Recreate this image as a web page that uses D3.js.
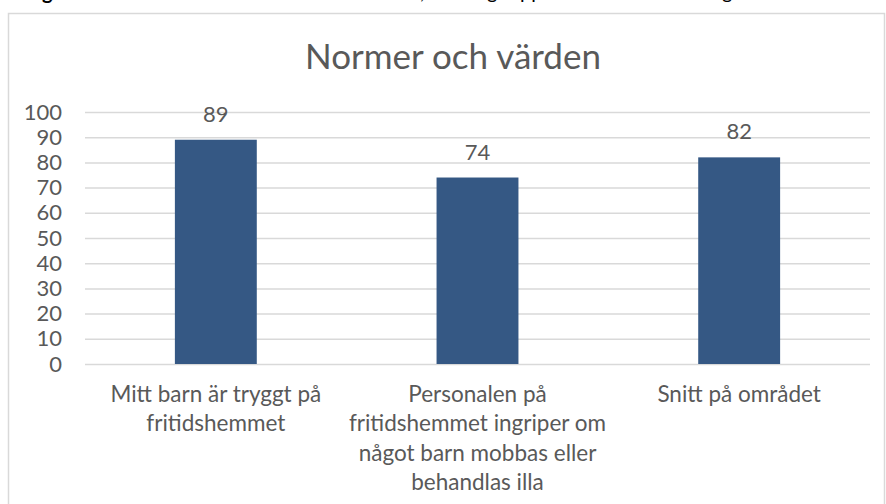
<!doctype html>
<html lang=sv>
<head>
<meta charset=utf-8>
<title>Normer och värden</title>
<script src="https://d3js.org/d3.v7.min.js"></script>
<style>
  body { margin: 0; background: #fff; }
  svg { display: block; }
  text { font-family: Lato, "Open Sans", sans-serif; fill: #595959; }
</style>
</head>
<body>
<div id="container"></div>
<script>
    // data
    var title = "Normer och värden";
    var categories = [
        "Mitt barn är tryggt på fritidshemmet",
        "Personalen på fritidshemmet ingriper om något barn mobbas eller behandlas illa",
        "Snitt på området"
    ];
    // the way the labels wrap in the picture
    var categoryLines = [
        ["Mitt barn är tryggt på", "fritidshemmet"],
        ["Personalen på", "fritidshemmet ingriper om", "något barn mobbas eller", "behandlas illa"],
        ["Snitt på området"]
    ];
    var values = [89, 74, 82];
    var yTicks = [0, 10, 20, 30, 40, 50, 60, 70, 80, 90, 100];

    var w = 886;
    var h = 504;
    var plotLeft = 85, plotRight = 870, plotTop = 112, plotBottom = 364;

    var svg = d3.select("div#container").append("svg")
        .attr("width", w).attr("height", h)
        .attr("viewBox", "0 0 " + w + " " + h);

    // bits of the document caption cut off above the chart
    var cap = svg.append("g").style("font-family", "'Liberation Serif', serif").style("font-size", "20px");
    cap.append("text").attr("x", 42).attr("y", -1).style("font-weight", "bold").style("fill", "#000").text("g");
    cap.append("text").attr("x", 420).attr("y", -1).style("fill", "#000").text(",");
    cap.append("text").attr("x", 487).attr("y", -1).style("fill", "#000").text("g");
    cap.append("text").attr("x", 520).attr("y", -1).style("fill", "#000").text("pp");
    cap.append("text").attr("x", 722).attr("y", -1).style("fill", "#000").text("g");

    // chart frame
    svg.append("rect")
        .attr("x", 8.5).attr("y", 13.5)
        .attr("width", 876).attr("height", 520)
        .attr("fill", "#fff").attr("stroke", "#d9d9d9").attr("stroke-width", 1.5);

    svg.append("text")
        .attr("x", 453).attr("y", 69)
        .attr("text-anchor", "middle")
        .style("font-size", "35px")
        .text(title);

    var x = d3.scaleBand().domain(categories).range([plotLeft, plotRight])
        .paddingInner(0.687).paddingOuter(0.3435);
    var y = d3.scaleLinear().domain([0, 100]).range([plotBottom, plotTop]);

    // gridlines
    svg.append("g")
        .attr("transform", "translate(" + plotLeft + ",0)")
        .call(d3.axisLeft(y).tickValues(yTicks).tickSize(-(plotRight - plotLeft)).tickFormat(""))
        .call(function(g) { g.select(".domain").remove(); })
        .selectAll("line").attr("stroke", "#d9d9d9").attr("stroke-width", 1.5);

    // y labels
    svg.append("g")
        .attr("transform", "translate(" + plotLeft + ",0)")
        .call(d3.axisLeft(y).tickValues(yTicks).tickSize(0).tickPadding(23))
        .call(function(g) { g.select(".domain").remove(); })
        .attr("font-family", null).attr("font-size", null)
        .selectAll("text")
        .style("font-size", "22px").attr("fill", null);

    // bars
    svg.selectAll("rect.bar")
        .data(values)
        .enter()
        .append("rect")
        .attr("class", "bar")
        .attr("x", function(d, i) { return x(categories[i]); })
        .attr("y", function(d) { return y(d); })
        .attr("width", x.bandwidth())
        .attr("height", function(d) { return y(0) - y(d); })
        .attr("fill", "#355884");

    // value labels
    svg.selectAll("text.val")
        .data(values)
        .enter()
        .append("text")
        .attr("class", "val")
        .attr("x", function(d, i) { return x(categories[i]) + x.bandwidth() / 2; })
        .attr("y", function(d) { return y(d) - 18; })
        .attr("text-anchor", "middle")
        .style("font-size", "22px")
        .text(function(d) { return d; });

    // category labels
    categoryLines.forEach(function(lines, i) {
        var t = svg.append("text")
            .attr("x", x(categories[i]) + x.bandwidth() / 2)
            .attr("y", 402)
            .attr("text-anchor", "middle")
            .style("font-size", "22.5px");
        t.selectAll("tspan")
            .data(lines)
            .enter()
            .append("tspan")
            .attr("x", x(categories[i]) + x.bandwidth() / 2)
            .attr("dy", function(d, j) { return j ? 29.4 : 0; })
            .text(function(d) { return d; });
    });
</script>
</body>
</html>
